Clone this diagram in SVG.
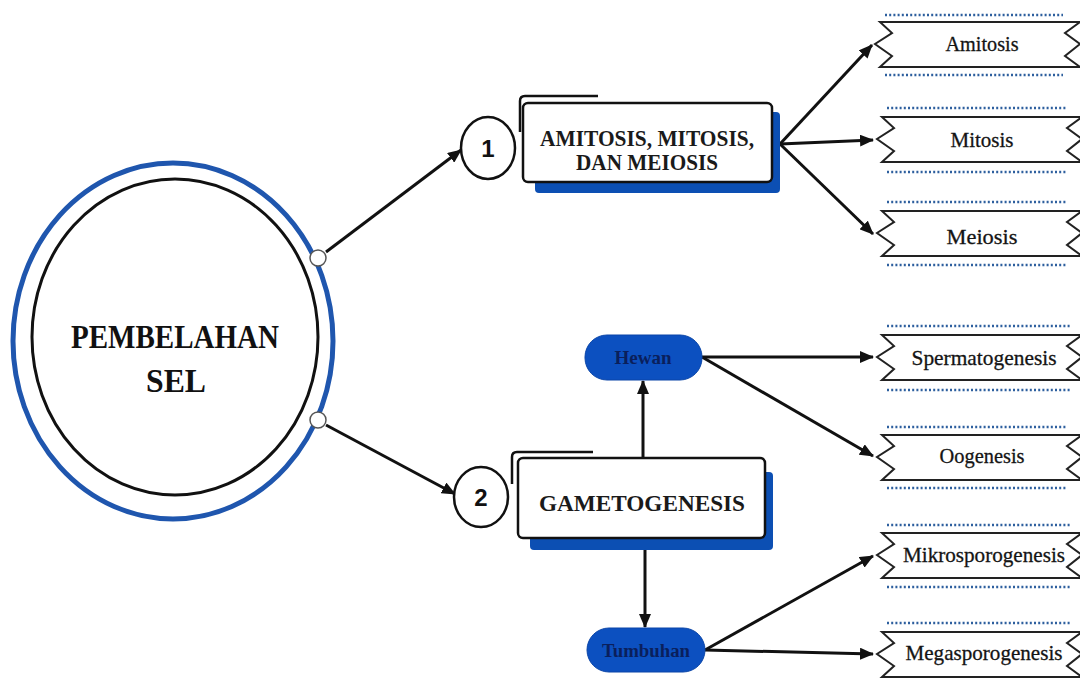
<svg xmlns="http://www.w3.org/2000/svg" xmlns:xlink="http://www.w3.org/1999/xlink" width="1080" height="683" viewBox="0 0 1080 683">
<style>
.conn{stroke:#111;stroke-width:3;fill:none;marker-end:url(#ah)}
.rib{fill:#fff;stroke:#222;stroke-width:2}
.dot{stroke:#2d5f9e;stroke-width:2.4;stroke-dasharray:2 2.2}
.rt{font-family:"Liberation Serif",serif;font-size:22px;fill:#141414;stroke:#141414;stroke-width:0.3;text-anchor:middle}
.bt{font-family:"Liberation Serif",serif;font-weight:bold;fill:#1a1a1a;text-anchor:middle}
.box{fill:#fff;stroke:#111;stroke-width:2.5}
.shadow{fill:#0c4fb3}
.brk{fill:none;stroke:#111;stroke-width:2.5}
.num{fill:#fff;stroke:#111;stroke-width:2.5}
.nt{font-family:"Liberation Sans",sans-serif;font-weight:bold;font-size:24px;fill:#111;text-anchor:middle}
.pill{fill:#0c50c0;stroke:#0a45a8;stroke-width:1}
.pt{font-family:"Liberation Serif",serif;font-weight:bold;fill:#0a1f5c;text-anchor:middle}
</style>
<defs>
<marker id="ah" viewBox="0 0 14 12" refX="13" refY="6" markerWidth="14" markerHeight="12" markerUnits="userSpaceOnUse" orient="auto">
<path d="M0,0 L14,6 L0,12 Z" fill="#111"/>
</marker>
<path id="ribbon" d="M0,0 H200 L185,11 L200,22 L185,34 L200,45 H0 L12,34 L-5,22 L12,11 Z"/>
</defs>
<rect width="1080" height="683" fill="#fff"/>

<g id="connectors">
<line class="conn" x1="326" y1="252" x2="461" y2="150"/>
<line class="conn" x1="326" y1="425" x2="455" y2="494"/>
<line class="conn" x1="780" y1="144" x2="872" y2="45"/>
<line class="conn" x1="780" y1="144" x2="873" y2="140"/>
<line class="conn" x1="780" y1="144" x2="873" y2="234"/>
<line class="conn" x1="643" y1="458" x2="643" y2="381"/>
<line class="conn" x1="645" y1="550" x2="645" y2="627"/>
<line class="conn" x1="702" y1="357" x2="873" y2="357"/>
<line class="conn" x1="702" y1="357" x2="873" y2="456"/>
<line class="conn" x1="705" y1="650" x2="873" y2="556"/>
<line class="conn" x1="705" y1="650" x2="873" y2="654"/>
</g>

<g id="pembelahan-sel">
<ellipse cx="173" cy="341" rx="160" ry="178" fill="#fff" stroke="#1f56ae" stroke-width="5"/>
<ellipse cx="175" cy="337" rx="143" ry="158" fill="#fff" stroke="#111" stroke-width="3"/>
<circle cx="318" cy="258" r="8" fill="#fff" stroke="#555" stroke-width="1.5"/>
<circle cx="318" cy="420" r="8" fill="#fff" stroke="#555" stroke-width="1.5"/>
<text class="bt" x="175" y="348" font-size="34" textLength="208" lengthAdjust="spacingAndGlyphs" style="fill:#111">PEMBELAHAN</text>
<text class="bt" x="176" y="392" font-size="34" textLength="60" lengthAdjust="spacingAndGlyphs" style="fill:#111">SEL</text>
</g>

<g id="num-1">
<ellipse class="num" cx="488" cy="148" rx="27" ry="31"/>
<text class="nt" x="488" y="157">1</text>
</g>

<g id="box-amitosis-mitosis-meiosis">
<rect class="shadow" x="535" y="112" width="245" height="81" rx="4"/>
<path class="brk" d="M520,132 V101 Q520,96 525,96 H598"/>
<rect class="box" x="523" y="103" width="249" height="79" rx="5"/>
<text class="bt" x="647" y="146" font-size="23" textLength="214" lengthAdjust="spacingAndGlyphs">AMITOSIS, MITOSIS,</text>
<text class="bt" x="647" y="170" font-size="23" textLength="142" lengthAdjust="spacingAndGlyphs">DAN MEIOSIS</text>
</g>

<g id="num-2">
<ellipse class="num" cx="481" cy="497" rx="27" ry="30"/>
<text class="nt" x="481" y="506">2</text>
</g>

<g id="box-gametogenesis">
<rect class="shadow" x="530" y="472" width="243" height="78" rx="4"/>
<path class="brk" d="M512,484 V457 Q512,452 517,452 H593"/>
<rect class="box" x="518" y="458" width="247" height="80" rx="5"/>
<text class="bt" x="642" y="511" font-size="24" textLength="206" lengthAdjust="spacingAndGlyphs">GAMETOGENESIS</text>
</g>

<g id="hewan">
<rect class="pill" x="585" y="335" width="117" height="45" rx="22"/>
<text class="pt" x="643" y="364" font-size="19">Hewan</text>
</g>

<g id="tumbuhan">
<rect class="pill" x="587" y="628" width="118" height="44" rx="22"/>
<text class="pt" x="646" y="657" font-size="18" textLength="88" lengthAdjust="spacingAndGlyphs">Tumbuhan</text>
</g>

<g id="amitosis">
<line class="dot" x1="885" y1="15" x2="1063" y2="15"/>
<use href="#ribbon" xlink:href="#ribbon" class="rib" x="880" y="22"/>
<line class="dot" x1="885" y1="75" x2="1063" y2="75"/>
<text class="rt" x="982" y="51" textLength="73" lengthAdjust="spacingAndGlyphs">Amitosis</text>
</g>

<g id="mitosis">
<line class="dot" x1="887" y1="108" x2="1067" y2="108"/>
<use href="#ribbon" xlink:href="#ribbon" class="rib" x="882" y="117"/>
<line class="dot" x1="887" y1="172" x2="1067" y2="172"/>
<text class="rt" x="982" y="147" textLength="63" lengthAdjust="spacingAndGlyphs">Mitosis</text>
</g>

<g id="meiosis">
<line class="dot" x1="887" y1="202" x2="1067" y2="202"/>
<use href="#ribbon" xlink:href="#ribbon" class="rib" x="882" y="211"/>
<line class="dot" x1="887" y1="265" x2="1067" y2="265"/>
<text class="rt" x="982" y="244" textLength="71" lengthAdjust="spacingAndGlyphs">Meiosis</text>
</g>

<g id="spermatogenesis">
<line class="dot" x1="887" y1="326" x2="1070" y2="326"/>
<use href="#ribbon" xlink:href="#ribbon" class="rib" x="882" y="335"/>
<line class="dot" x1="887" y1="390" x2="1070" y2="390"/>
<text class="rt" x="984" y="365" textLength="145" lengthAdjust="spacingAndGlyphs">Spermatogenesis</text>
</g>

<g id="oogenesis">
<line class="dot" x1="887" y1="427" x2="1067" y2="427"/>
<use href="#ribbon" xlink:href="#ribbon" class="rib" x="882" y="435"/>
<line class="dot" x1="887" y1="488" x2="1067" y2="488"/>
<text class="rt" x="982" y="463" textLength="85" lengthAdjust="spacingAndGlyphs">Oogenesis</text>
</g>

<g id="mikrosporogenesis">
<line class="dot" x1="887" y1="525" x2="1070" y2="525"/>
<use href="#ribbon" xlink:href="#ribbon" class="rib" x="882" y="533"/>
<line class="dot" x1="887" y1="587" x2="1070" y2="587"/>
<text class="rt" x="984" y="562" textLength="162" lengthAdjust="spacingAndGlyphs">Mikrosporogenesis</text>
</g>

<g id="megasporogenesis">
<line class="dot" x1="887" y1="623" x2="1070" y2="623"/>
<use href="#ribbon" xlink:href="#ribbon" class="rib" x="882" y="632"/>
<text class="rt" x="984" y="660" textLength="157" lengthAdjust="spacingAndGlyphs">Megasporogenesis</text>
</g>
</svg>
